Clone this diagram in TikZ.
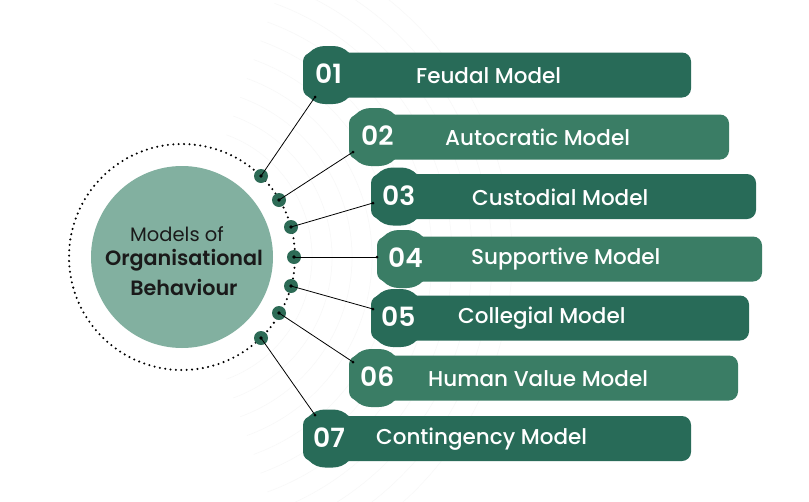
\documentclass[tikz,border=0pt]{standalone}
\usepackage{fontspec}
\setmainfont{Poppins}[BoldFont={Poppins SemiBold}]
\newfontfamily\popmed{Poppins Medium}
\definecolor{darkg}{HTML}{286B58}
\definecolor{lightg}{HTML}{3A7D65}
\definecolor{circg}{HTML}{82B0A0}
\definecolor{dotg}{HTML}{2D6B56}
\definecolor{txt}{HTML}{1A1A1A}
\tikzset{
  barbox/.style={rectangle, rounded corners=9pt, inner sep=0pt, minimum height=45pt},
  bubblebox/.style={rectangle, rounded corners=22pt, inner sep=0pt, minimum height=58pt, minimum width=52pt},
  numtxt/.style={text=white, font=\bfseries\fontsize{26.5}{28}\selectfont, anchor=west, inner sep=0pt},
  labtxt/.style={text=white, font=\popmed\fontsize{21.5}{24}\selectfont, anchor=west, inner sep=0pt},
  hub/.style={circle, fill=dotg, minimum size=14pt, inner sep=0pt},
  conn/.style={black, line width=0.8pt},
  tipdot/.style={circle, fill=black, inner sep=0pt, minimum size=3.6pt}
}
\begin{document}
\begin{tikzpicture}[x=1pt,y=-1pt]
\useasboundingbox[fill=white] (0,0) rectangle (809,501);
% faint background curves
\foreach \r in {130,150,...,330}{
  \draw[gray!6, line width=0.5pt] (182,257) ++(-70:\r) arc[start angle=-70, end angle=70, radius=\r];
}
% central circle
\draw[line width=2.3pt, dash pattern=on 0pt off 5.4pt, line cap=round] (182,257) circle (113);
\node[circle, fill=circg, minimum size=182pt, inner sep=0pt] (core) at (182,257) {};
\node[text=txt, font=\fontsize{19.5}{22}\selectfont, inner sep=0pt] (t1) at (177,234) {Models of};
\node[text=txt, font=\bfseries\fontsize{20.7}{22}\selectfont, inner sep=0pt] (t2) at (184,260) {Organisational};
\node[text=txt, font=\bfseries\fontsize{20.7}{22}\selectfont, inner sep=0pt] (t3) at (184,287) {Behaviour};
% pills: index / x0 / yc / xr / color / numx / labx / label
\foreach \i/\xa/\yc/\xr/\col/\nx/\lx/\lab in {
  1/303/75/691/darkg/315/416/Feudal Model,
  2/349/137/729/lightg/361/445/Autocratic Model,
  3/371/196.5/756/darkg/382/472/Custodial Model,
  4/377/259/762/lightg/388/471/Supportive Model,
  5/371/318/749/darkg/381/458/Collegial Model,
  6/349/378/738/lightg/360/428/Human Value Model,
  7/303/438.5/691/darkg/313/376/Contingency Model}{
  \pgfmathsetmacro{\w}{\xr-\xa}
  \pgfmathsetmacro{\cx}{(\xr+\xa)/2}
  \pgfmathsetmacro{\bx}{\xa+26}
  \node[barbox, fill=\col, minimum width=\w pt] (bar\i) at (\cx,\yc) {};
  \node[bubblebox, fill=\col] (bub\i) at (\bx,\yc) {};
  \node[numtxt] (num\i) at (\nx,\yc-1) {0\i};
  \node[labtxt] (lab\i) at (\lx,\yc+0.5) {\lab};
}
% hubs and end coordinates
\foreach \i/\hx/\hy/\ex/\ey in {
  1/261/176/315/97,
  2/279/200/353/152,
  3/291/227/373/203,
  4/294/257/377/257,
  5/291/286/373/309,
  6/279/313/353/362,
  7/261/338/315/415}{
  \node[hub] (h\i) at (\hx,\hy) {};
  \coordinate (e\i) at (\ex,\ey);
  \draw[conn] (h\i.center) -- (e\i);
  \node[tipdot] at (h\i.center) {};
  \node[tipdot, minimum size=3pt] at (e\i) {};
}
\end{tikzpicture}
\end{document}
